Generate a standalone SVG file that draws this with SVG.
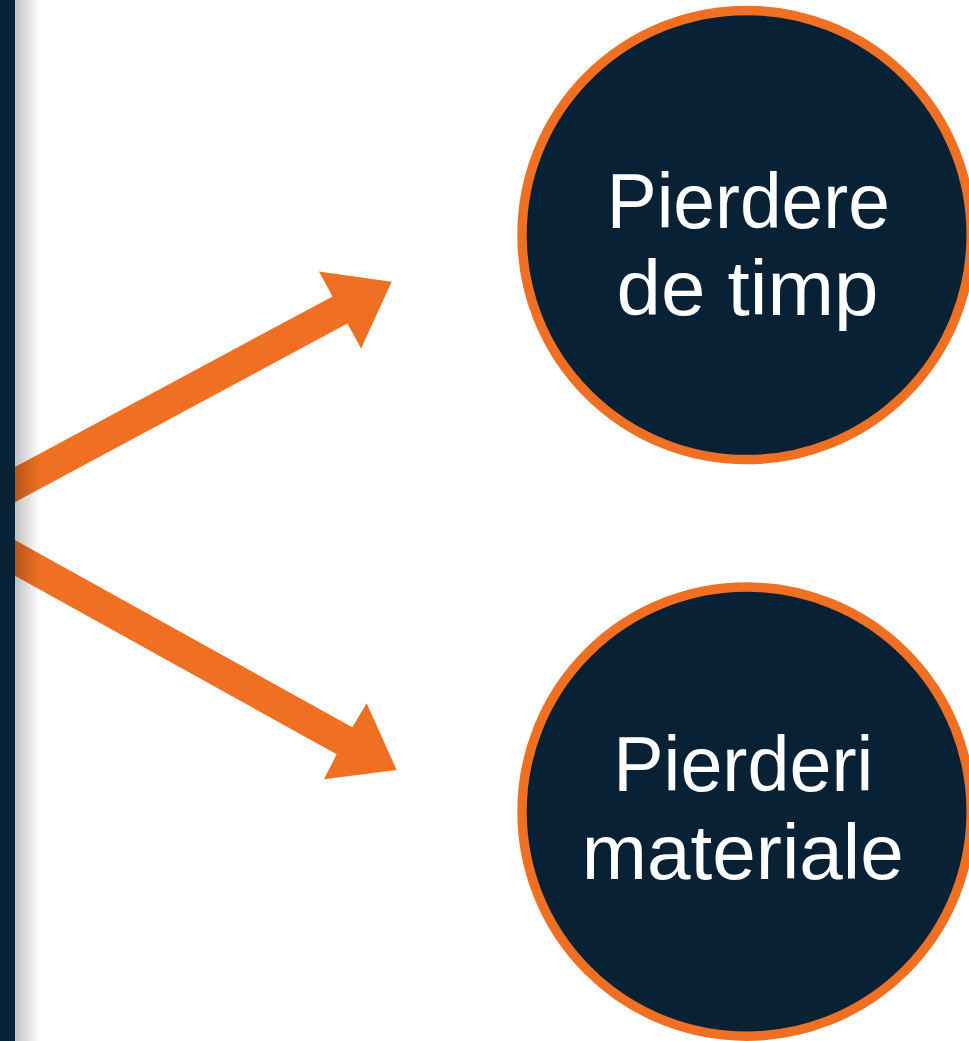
<svg xmlns="http://www.w3.org/2000/svg" width="969" height="1041" viewBox="0 0 969 1041">
<defs>
<linearGradient id="shadow" x1="0" y1="0" x2="1" y2="0">
<stop offset="0" stop-color="#000" stop-opacity="0.25"/>
<stop offset="0.5" stop-color="#000" stop-opacity="0.12"/>
<stop offset="1" stop-color="#000" stop-opacity="0"/>
</linearGradient>
<style>
.node{fill:#082135;stroke:#F07023;stroke-width:9.5}
.lbl{fill:#ffffff;font-family:"Liberation Sans",Arial,sans-serif;font-size:77px;text-anchor:middle}
.arrow{fill:#F07023}
</style>
</defs>
<rect width="969" height="1041" fill="#ffffff"/>
<g id="connectors">
<polygon class="arrow" points="-5,477.7 332.6,296.4 318.9,271.4 391.7,281.7 361.1,348.6 347.4,323.6 -5,512.9"/>
<polygon class="arrow" points="-5,529 352.3,727.3 366.7,703.3 396.7,770 324,779.3 336.7,754.3 -5,564.6"/>
</g>
<rect id="sidebar" x="0" y="0" width="15" height="1041" fill="#082237"/>
<rect x="15" y="0" width="25" height="1041" fill="url(#shadow)"/>
<g id="node-timp">
<circle class="node" cx="746.6" cy="235" r="224.6"/>
<text class="lbl" x="748.3" y="227.7" textLength="283" lengthAdjust="spacingAndGlyphs">Pierdere</text>
<text class="lbl" x="747.5" y="315.3" textLength="262" lengthAdjust="spacingAndGlyphs">de timp</text>
</g>
<g id="node-materiale">
<circle class="node" cx="746.6" cy="811.6" r="224.6"/>
<text class="lbl" x="743.3" y="791" textLength="260" lengthAdjust="spacingAndGlyphs">Pierderi</text>
<text class="lbl" x="742.8" y="879.3" textLength="322" lengthAdjust="spacingAndGlyphs">materiale</text>
</g>
</svg>
